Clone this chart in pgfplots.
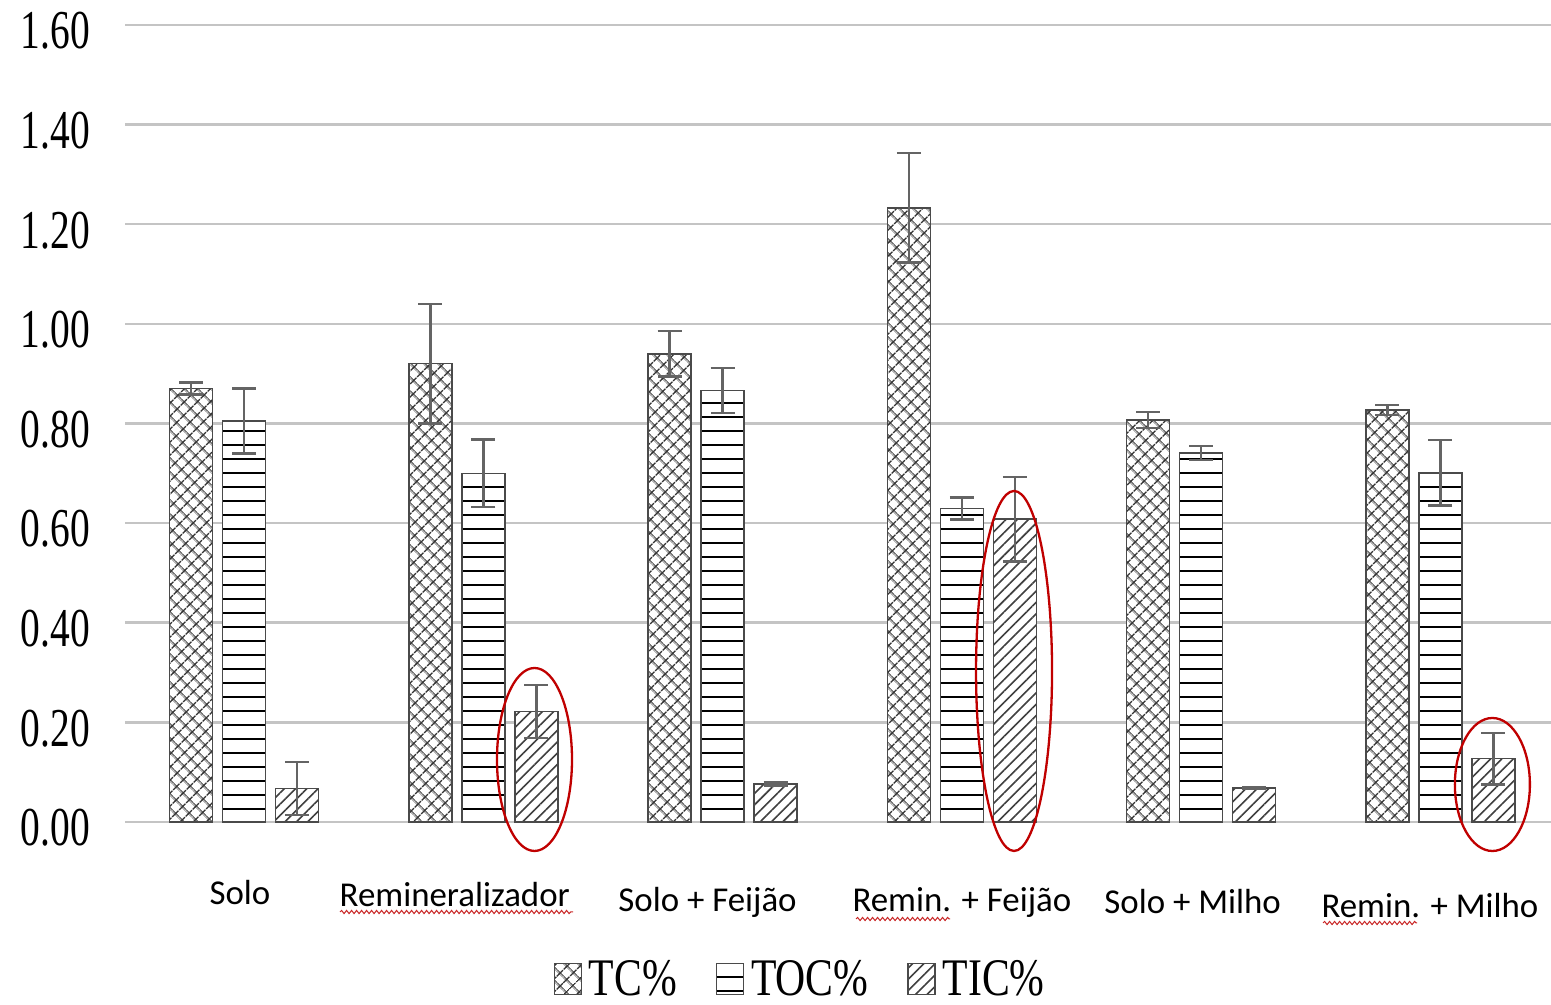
\documentclass[border=0pt]{standalone}
\usepackage{pgfplots}
\pgfplotsset{compat=1.18}
\usepackage{fontspec}
\setmainfont{Liberation Serif}
\newfontfamily\calibri{Carlito}
\usetikzlibrary{patterns.meta,decorations.pathmorphing}
\definecolor{gridgray}{HTML}{C4C4C4}
\definecolor{errgray}{HTML}{646464}
\definecolor{edgegray}{HTML}{4A4A4A}
\definecolor{annred}{HTML}{C00000}
\pgfplotsset{errstyle/.style={
    error bars/y dir=both, error bars/y explicit,
    error bars/error bar style={line width=2.5bp, errgray},
    error bars/error mark options={rotate=90, mark size=12bp, line width=2.5bp, errgray}}}
\begin{document}
\begin{tikzpicture}
\path[use as bounding box, fill=white] (0,0) rectangle (1551bp,1005bp);
\begin{axis}[
  at={(125bp,183bp)}, anchor=south west,
  scale only axis, width=1426bp, height=797bp,
  xmin=-0.4973, xmax=5.4618, ymin=0, ymax=1.6,
  ybar=10bp, bar width=43bp,
  axis line style={draw=none},
  major tick style={draw=none}, minor tick style={draw=none},
  ymajorgrids, major grid style={gridgray, line width=2.5bp},
  ytick={0,0.2,0.4,0.6,0.8,1.0,1.2,1.4,1.6},
  /pgf/number format/assume math mode=true,
  yticklabel={\scalebox{0.72}[1]{\pgfmathprintnumber[fixed,fixed zerofill,precision=2]{\tick}}},
  yticklabel style={font=\fontsize{55}{60}\selectfont, anchor=east, inner sep=0pt, xshift=-35bp, yshift=-6bp},
  xtick={0,1,2,3,4,5},
  xticklabels={
    {Solo\hspace*{8bp}},
    {\raisebox{-2bp}{Remineralizador}\hspace*{57bp}},
    {\raisebox{-7bp}{Solo + Feijão}\hspace*{30bp}},
    {\raisebox{-7bp}{Remin. + Feijão}},
    {\raisebox{-9bp}{Solo + Milho}\hspace*{17bp}},
    {\raisebox{-13bp}{Remin. + Milho}\hspace*{21bp}}},
  xticklabel style={font=\calibri\fontsize{35}{40}\selectfont, anchor=base, inner sep=0pt, yshift=-78bp},
  clip=false,
  legend columns=3,
  legend style={at={(0.4727,-0.1970)}, anchor=center, draw=none, fill=none,
    font=\fontsize{53}{58}\selectfont, inner sep=0pt, nodes={inner sep=0pt},
    column sep=7bp, /tikz/every even column/.append style={column sep=39bp}},
  legend image code/.code={\draw[#1, line width=1.2bp] (0bp,-15.5bp) rectangle (27bp,15.5bp);},
]
\addplot[fill=white, draw=edgegray, line width=1.5bp,
  postaction={pattern={Hatch[angle=45,distance=10bp,line width=1.6bp]}, pattern color=black!80}, errstyle]
  coordinates {(0,0.870) +- (0,0.012) (1,0.920) +- (0,0.120) (2,0.940) +- (0,0.046)
               (3,1.233) +- (0,0.110) (4,0.807) +- (0,0.016) (5,0.827) +- (0,0.010)};
\addplot[fill=white, draw=edgegray, line width=1.5bp,
  postaction={pattern={Lines[angle=0,distance=14bp,line width=2.8bp]}, pattern color=black}, errstyle]
  coordinates {(0,0.805) +- (0,0.065) (1,0.700) +- (0,0.068) (2,0.866) +- (0,0.045)
               (3,0.629) +- (0,0.022) (4,0.741) +- (0,0.014) (5,0.701) +- (0,0.066)};
\addplot[fill=white, draw=edgegray, line width=1.5bp,
  postaction={pattern={Lines[angle=45,distance=8bp,line width=1.6bp]}, pattern color=black!75}, errstyle]
  coordinates {(0,0.067) +- (0,0.053) (1,0.222) +- (0,0.053) (2,0.076) +- (0,0.003)
               (3,0.608) +- (0,0.085) (4,0.068) +- (0,0.002) (5,0.127) +- (0,0.052)};
\legend{\scalebox{0.79}[1]{TC\%},\scalebox{0.79}[1]{TOC\%},\scalebox{0.79}[1]{TIC\%}}
\draw[annred, line width=2.3bp] (axis cs:1.214,0.1255) ellipse [x radius=37.5bp, y radius=91.5bp];
\draw[annred, line width=2.3bp] (axis cs:3.218,0.3032) ellipse [x radius=38bp, y radius=180bp];
\draw[annred, line width=2.3bp] (axis cs:5.217,0.0753) ellipse [x radius=37.5bp, y radius=66.5bp];
\end{axis}
\tikzset{wavy/.style={draw=annred!85, line width=1bp, decorate, decoration={snake, amplitude=1.6bp, segment length=5bp}}}
\draw[wavy] (340bp,93bp) -- (573bp,93bp);
\draw[wavy] (856bp,86bp) -- (950bp,86bp);
\draw[wavy] (1323bp,82bp) -- (1417bp,82bp);
\end{tikzpicture}
\end{document}
